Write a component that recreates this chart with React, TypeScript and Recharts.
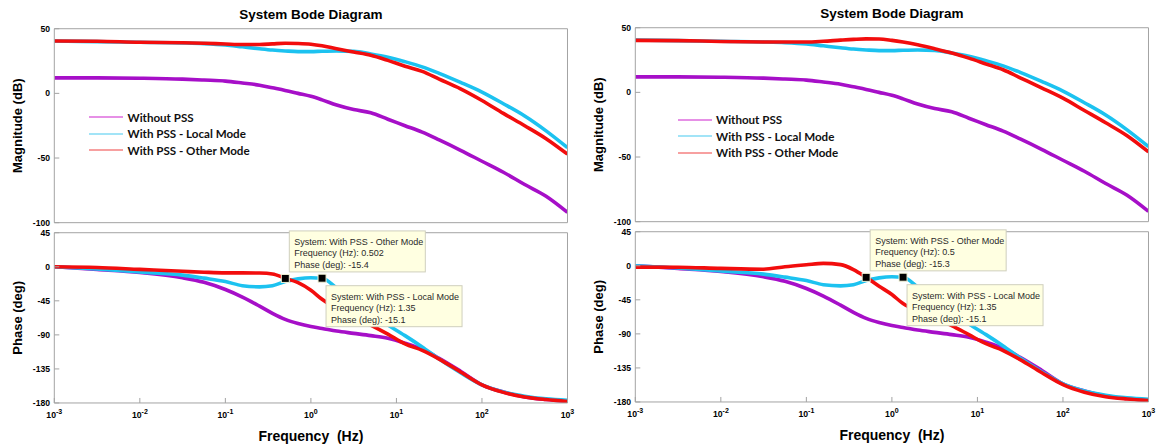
import React from "react";
import { LineChart, Line, XAxis, YAxis, ReferenceDot, Legend } from "recharts";

// frequency grid shared by every curve (Hz)
const freqs = [
  0.001, 0.00316, 0.01, 0.0316, 0.0562, 0.1, 0.158, 0.251, 0.355, 0.5, 0.708, 1, 1.35, 2, 3.16, 5.01, 7.94, 12.6,
  20, 31.6, 56.2, 100, 178, 316, 562, 1000,
];

// magnitude (dB)
const magWithout = [
  12, 12, 11.7, 11, 10.3, 9.5, 8, 6.3, 4.3, 2.3, 0, -2.3, -5, -9, -12.5, -15, -20, -25, -30, -36, -44, -52.5, -61,
  -70.5, -79.5, -92,
];
const magLocal = [
  40.5, 40, 39.5, 39, 38.5, 37.5, 36, 34.5, 33.5, 32.8, 32.3, 32.3, 32.6, 32.8, 32.5, 30.5, 28, 24.5, 20.5, 15.5, 8.5,
  1, -8, -17.5, -29, -42,
];
const magOtherLeft = [
  40.5, 40.3, 39.5, 39.2, 38.8, 38.2, 37.8, 37.8, 38.3, 38.8, 38.6, 38, 36.8, 34.5, 32, 29.5, 25.5, 21, 17, 11, 3.5,
  -5.5, -15.5, -25, -35, -47,
];
const magOtherRight = [
  40.2, 40, 39.4, 39, 38.9, 38.9, 39.5, 40.4, 41, 41.4, 41.3, 40.2, 38.9, 36.8, 33.8, 30.5, 26.5, 22, 17.5, 11.3, 3.5,
  -4.5, -14, -23.5, -33.5, -46,
];

// phase (deg)
const phaseWithout = [
  0, -3.5, -7.5, -14.5, -20.5, -30, -40, -52, -61.5, -69.5, -75, -79, -81.5, -85, -88, -91, -94.5, -101, -109, -121,
  -138, -156, -165.5, -172, -175.5, -178,
];
const phaseLocal = [
  0, -3, -7, -11, -15, -19.5, -25, -26.5, -25, -19.5, -16, -14.5, -15.1, -28, -45, -63, -77, -91, -106, -122, -140,
  -156, -165.5, -171, -174.5, -176.5,
];
const phaseOtherLeft = [
  0, -1, -3.5, -6, -7.2, -8, -8, -8.3, -9.5, -15.2, -21, -31, -43, -55.5, -66, -77, -89, -102, -110.5, -122, -139,
  -156, -166, -172, -175.5, -178,
];
const phaseOtherRight = [
  -1.8, -2, -3.5, -4.5, -1.3, 1.3, 3.2, 1.5, -5, -15.3, -27, -38, -50, -60, -69, -79, -91, -103, -112, -124, -141,
  -157, -167, -173, -176, -178,
];

const seriesNames = ["Without PSS", "With PSS - Local Mode", "With PSS - Other Mode"];
const seriesColors = ["#a60fc8", "#1cc2f0", "#f20d0d"];
const legendColors = ["#e690e6", "#a2e4f7", "#f7a0a0"];

const decadeTicks = [0.001, 0.01, 0.1, 1, 10, 100, 1000];
const minorTicks = decadeTicks
  .slice(0, -1)
  .flatMap((d) => [2, 3, 4, 5, 6, 7, 8, 9].map((m) => +(m * d).toPrecision(3)));
const magTicks = [-100, -50, 0, 50];
const phaseTicks = [-180, -135, -90, -45, 0, 45];

// data tips: [left plot, right plot]
const otherTipFreq = [0.502, 0.5];
const otherTipPhase = [-15.4, -15.3];
const localTipFreq = [1.35, 1.35];
const localTipPhase = [-15.1, -15.1];

const FONT = '"Liberation Sans", Arial, sans-serif';
const frameGray = "#a3a3a3";
const PANEL_W = 580;
const M_LEFT = 54.3;
const M_RIGHT = 12.5;
// axes take (almost) no room so the margins alone fix the plot box
const THIN = 0.01;

const pts = (vals: number[]) => freqs.map((f, i) => ({ f, v: vals[i] }));

const DecadeTick = ({ x, y, payload }: any) => {
  const exp = Math.round(Math.log10(payload.value));
  return (
    <text x={x} y={y} textAnchor="middle" fontFamily={FONT} fontWeight={700} fontSize={8.7} fill="#000">
      10
      <tspan dy={-4} fontSize={7}>
        {exp}
      </tspan>
    </text>
  );
};

const AxisTitle = ({ viewBox, value }: any) => {
  const cy = viewBox.y + viewBox.height / 2;
  return (
    <text
      x={18}
      y={cy}
      transform={`rotate(-90, 18, ${cy})`}
      textAnchor="middle"
      dominantBaseline="central"
      fontFamily={FONT}
      fontWeight={700}
      fontSize={13}
      fill="#000"
    >
      {value}
    </text>
  );
};

const TipShape = ({ cx, cy, lines, below }: any) => {
  const bx = cx + 4;
  const by = below ? cy + 7.5 : cy - 47.5;
  return (
    <g>
      <rect x={bx} y={by} width={136} height={41} fill="#ffffe1" stroke="#cfcfbd" strokeWidth={1} />
      {lines.map((t: string, i: number) => (
        <text key={i} x={bx + 5} y={by + 14 + i * 11.5} fontFamily={FONT} fontSize={9} fill="#2a2a2a">
          {t}
        </text>
      ))}
      <rect x={cx - 4} y={cy - 4} width={8} height={8} fill="#000" stroke="#f4f4d8" strokeWidth={1} />
    </g>
  );
};

const LegendBox = () => (
  <div style={{ fontFamily: "Lato, sans-serif", fontWeight: 700, fontSize: 11.6, color: "#111" }}>
    {seriesNames.map((name, i) => (
      <div key={name} style={{ display: "flex", alignItems: "center", height: 16.5, whiteSpace: "nowrap" }}>
        <span style={{ width: 34, height: 1.6, background: legendColors[i], marginRight: 4.5 }} />
        <span>{name}</span>
      </div>
    ))}
  </div>
);

// box axes: labelled left/bottom, plain top/right, log minor ticks on x
function frame(yTicks: number[], yDomain: [number, number], title: string, freqLabels: boolean) {
  const xCommon = {
    type: "number" as const,
    scale: "log" as const,
    domain: [0.001, 1000],
    allowDataOverflow: true,
    height: THIN,
    interval: 0 as const,
    stroke: frameGray,
  };
  const yCommon = {
    type: "number" as const,
    domain: yDomain,
    ticks: yTicks,
    allowDataOverflow: true,
    width: THIN,
    interval: 0 as const,
    stroke: frameGray,
    tickSize: -5,
  };
  return [
    <XAxis
      key="xb"
      xAxisId="f"
      dataKey="f"
      {...xCommon}
      ticks={decadeTicks}
      tickSize={-5}
      tickMargin={20}
      tick={freqLabels ? <DecadeTick /> : false}
    />,
    <XAxis key="xbm" xAxisId="fm" {...xCommon} ticks={minorTicks} tickSize={-3} tick={false} axisLine={false} />,
    <XAxis key="xt" xAxisId="ft" orientation="top" {...xCommon} ticks={decadeTicks} tickSize={-5} tick={false} />,
    <XAxis
      key="xtm"
      xAxisId="ftm"
      orientation="top"
      {...xCommon}
      ticks={minorTicks}
      tickSize={-3}
      tick={false}
      axisLine={false}
    />,
    <YAxis
      key="yl"
      yAxisId="v"
      {...yCommon}
      tickMargin={9.3}
      tick={{ fontFamily: FONT, fontWeight: 700, fontSize: 8.6, fill: "#000" }}
      label={<AxisTitle value={title} />}
    />,
    <YAxis key="yr" yAxisId="vr" orientation="right" {...yCommon} tick={false} />,
  ];
}

function curves(series: number[][]) {
  return series.map((vals, i) => (
    <Line
      key={seriesNames[i]}
      xAxisId="f"
      yAxisId="v"
      data={pts(vals)}
      dataKey="v"
      name={seriesNames[i]}
      type="monotone"
      stroke={seriesColors[i]}
      strokeWidth={3.6}
      dot={false}
      isAnimationActive={false}
    />
  ));
}

type PanelProps = {
  left: number;
  dy: number;
  magOther: number[];
  phaseOther: number[];
  tip: number;
  legendPos: { left: number; top: number };
};

function BodePanel({ left, dy, magOther, phaseOther, tip, legendPos }: PanelProps) {
  return (
    <div style={{ position: "absolute", left, top: dy, width: PANEL_W, height: 445 }}>
      <div
        style={{
          position: "absolute",
          left: M_LEFT,
          width: PANEL_W - M_LEFT - M_RIGHT,
          top: 7,
          lineHeight: "16px",
          textAlign: "center",
          fontFamily: FONT,
          fontWeight: 700,
          fontSize: 13.5,
        }}
      >
        System Bode Diagram
      </div>

      <div style={{ position: "absolute", left: 0, top: 0 }}>
        <LineChart width={PANEL_W} height={230} margin={{ top: 28.7, right: M_RIGHT, bottom: 7.3, left: M_LEFT }}>
          {frame(magTicks, [-100, 50], "Magnitude (dB)", false)}
          {curves([magWithout, magLocal, magOther])}
          <Legend
            layout="vertical"
            align="center"
            verticalAlign="middle"
            wrapperStyle={{ left: legendPos.left, top: legendPos.top, width: 220 }}
            content={() => <LegendBox />}
          />
        </LineChart>
      </div>

      <div style={{ position: "absolute", left: 0, top: 228 }}>
        <LineChart width={PANEL_W} height={217} margin={{ top: 4.7, right: M_RIGHT, bottom: 42, left: M_LEFT }}>
          {frame(phaseTicks, [-180, 45], "Phase (deg)", true)}
          {curves([phaseWithout, phaseLocal, phaseOther])}
          <ReferenceDot
            xAxisId="f"
            yAxisId="v"
            x={otherTipFreq[tip]}
            y={otherTipPhase[tip]}
            ifOverflow="visible"
            shape={(p: any) => (
              <TipShape
                {...p}
                lines={[
                  `System: ${seriesNames[2]}`,
                  `Frequency (Hz): ${otherTipFreq[tip]}`,
                  `Phase (deg): ${otherTipPhase[tip]}`,
                ]}
              />
            )}
          />
          <ReferenceDot
            xAxisId="f"
            yAxisId="v"
            x={localTipFreq[tip]}
            y={localTipPhase[tip]}
            ifOverflow="visible"
            shape={(p: any) => (
              <TipShape
                {...p}
                below
                lines={[
                  `System: ${seriesNames[1]}`,
                  `Frequency (Hz): ${localTipFreq[tip]}`,
                  `Phase (deg): ${localTipPhase[tip]}`,
                ]}
              />
            )}
          />
        </LineChart>
      </div>

      <div
        style={{
          position: "absolute",
          left: M_LEFT,
          width: PANEL_W - M_LEFT - M_RIGHT,
          top: 428,
          lineHeight: "16px",
          textAlign: "center",
          fontFamily: FONT,
          fontWeight: 700,
          fontSize: 14,
          whiteSpace: "pre",
        }}
      >
        {"Frequency  (Hz)"}
      </div>
    </div>
  );
}

export default function App() {
  return (
    <div
      style={{
        position: "absolute",
        left: 0,
        top: 0,
        width: 1157,
        height: 445,
        background: "#fff",
        overflow: "hidden",
      }}
    >
      <BodePanel
        left={0}
        dy={0}
        magOther={magOtherLeft}
        phaseOther={phaseOtherLeft}
        tip={0}
        legendPos={{ left: 89, top: 109 }}
      />
      <BodePanel
        left={581}
        dy={-1.5}
        magOther={magOtherRight}
        phaseOther={phaseOtherRight}
        tip={1}
        legendPos={{ left: 96.5, top: 113 }}
      />
    </div>
  );
}
